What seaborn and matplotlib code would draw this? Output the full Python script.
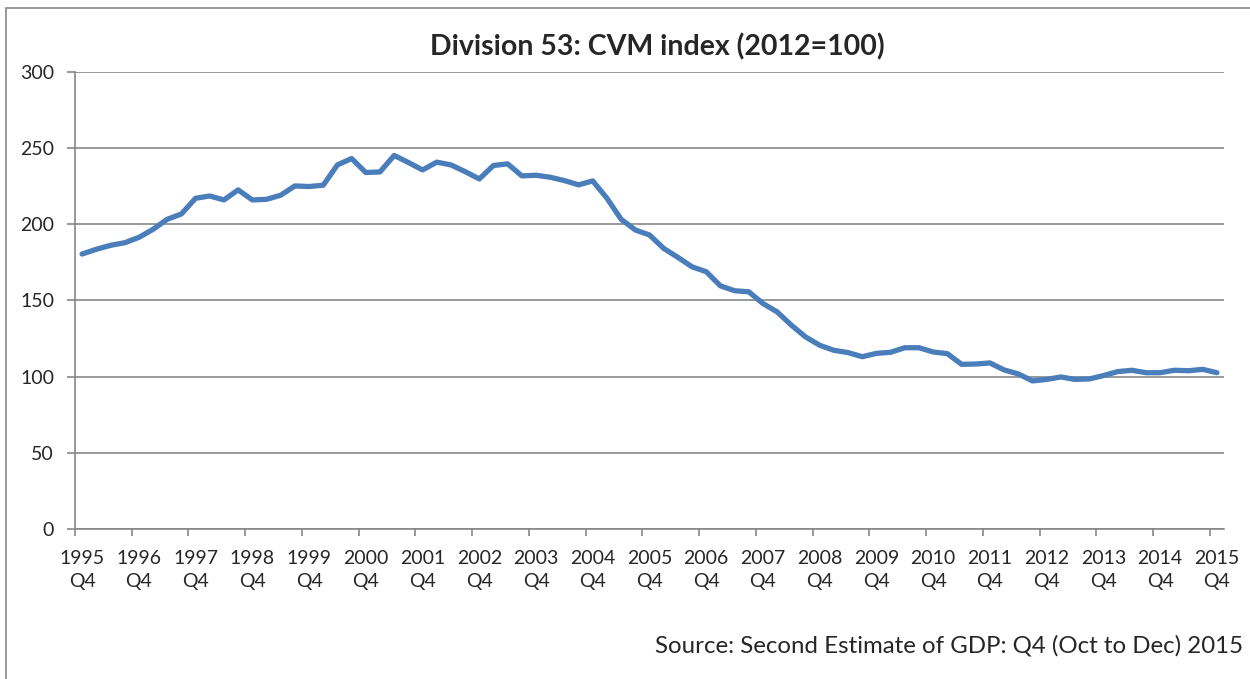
import numpy as np
import pandas as pd
import matplotlib
matplotlib.use("Agg")
import matplotlib.pyplot as plt
import seaborn as sns
from matplotlib.patches import Rectangle
from matplotlib.ticker import FixedLocator

# quarterly CVM index, 1995 Q4 .. 2015 Q4
years = list(range(1995, 2016))
cvm_index = [
    180.5, 183.6, 186.2, 187.9, 191.4, 196.7, 203.3, 206.8, 217.1, 218.6,
    216.0, 222.6, 216.0, 216.4, 219.1, 225.2, 224.8, 225.7, 239.0, 243.2,
    234.0, 234.4, 245.2, 240.6, 235.7, 240.8, 239.0, 234.6, 229.8, 238.6,
    239.7, 231.8, 232.2, 230.9, 228.7, 225.9, 228.5, 217.1, 203.3, 196.3,
    193.0, 184.2, 178.3, 172.1, 168.9, 159.6, 156.4, 155.7, 148.0, 142.5,
    133.8, 126.1, 120.6, 117.3, 115.8, 113.1, 115.3, 116.0, 119.0, 119.0,
    116.2, 115.1, 108.1, 108.3, 109.0, 104.4, 101.8, 97.2, 98.2, 99.8,
    98.2, 98.5, 100.7, 103.3, 104.2, 102.6, 102.6, 104.2, 103.9, 104.8,
    102.6,
]
y_ticks = [0, 50, 100, 150, 200, 250, 300]

df = pd.DataFrame({"q": np.arange(len(cvm_index)), "value": cvm_index})

sns.set_theme(style="white")
plt.rcParams["font.family"] = ["Lato", "DejaVu Sans"]

fig = plt.figure(figsize=(12.5, 6.79), dpi=100)
ax = fig.add_axes([0.06, 0.2209, 0.9192, 0.6731])

grey = "#878787"
sns.lineplot(data=df, x="q", y="value", ax=ax, color="#4A7EBB", linewidth=3.8)

ax.set_xlim(-0.5, len(cvm_index) - 0.5)
ax.set_ylim(0, 300)
ax.set_yticks(y_ticks)
ax.grid(axis="y", color=grey, linewidth=1.2)
ax.set_axisbelow(True)

ax.set_xticks(np.arange(0, len(cvm_index), 4))
ax.set_xticklabels([f"{y}\nQ4" for y in years], fontsize=14, linespacing=1.45)
ax.xaxis.set_minor_locator(FixedLocator(np.arange(-0.5, len(cvm_index), 4)))
ax.tick_params(axis="x", which="major", length=0, pad=15)
ax.tick_params(axis="x", which="minor", length=5, width=1.2, color=grey, bottom=True)
ax.tick_params(axis="y", length=6, width=1.2, color=grey, left=True, pad=9, labelsize=14)

for side in ["top", "right"]:
    ax.spines[side].set_visible(False)
for side in ["left", "bottom"]:
    ax.spines[side].set_color(grey)
    ax.spines[side].set_linewidth(1.2)

ax.set_xlabel("")
ax.set_ylabel("")

fig.text(0.5256, 0.931, "Division 53: CVM index (2012=100)", ha="center", va="center",
         fontsize=20.5, fontweight="bold")
fig.text(0.9944, 0.049, "Source: Second Estimate of GDP: Q4 (Oct to Dec) 2015",
         ha="right", va="center", fontsize=17.3)

fig.patches.append(Rectangle((6 / 1250, -0.1), 1.2, 1.1 - 8 / 679, transform=fig.transFigure,
                             fill=False, edgecolor=grey, linewidth=1.2))

fig.savefig("out.png", dpi=100)
